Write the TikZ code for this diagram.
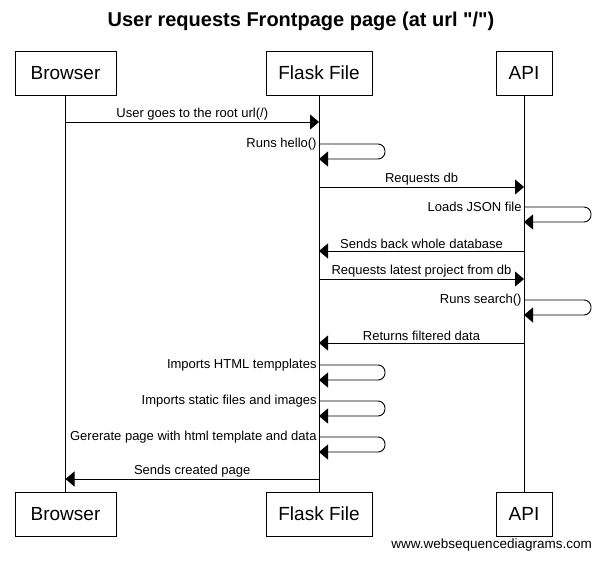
\documentclass[tikz,border=0pt]{standalone}
\usepackage{fontspec}
\setmainfont{Liberation Sans}
\newfontfamily\plainfont{Liberation Sans}
\usetikzlibrary{arrows.meta}
\begin{document}
\begin{tikzpicture}[x=1pt,y=-1pt,
  actor/.style={draw, line width=0.9pt, minimum height=44pt, inner sep=0pt, font=\fontsize{19}{22}\selectfont},
  msg/.style={line width=0.9pt, -{Triangle[length=9pt,width=15pt]}},
  lbl/.style={inner sep=0pt, font=\fontsize{13}{15}\selectfont},
  life/.style={line width=0.9pt}]
\useasboundingbox (0,0) rectangle (601,561);
\node[font=\plainfont\bfseries\fontsize{20}{24}\selectfont] (title) at (301,21) {User requests Frontpage page (at url "/")};
% actors top
\node[actor, minimum width=101pt] (bt) at (65.5,73) {Browser};
\node[actor, minimum width=106pt] (ft) at (319,73) {Flask File};
\node[actor, minimum width=56pt] (at) at (524,73) {API};
% actors bottom
\node[actor, minimum width=101pt] (bb) at (65.5,514) {Browser};
\node[actor, minimum width=106pt] (fb) at (319,514) {Flask File};
\node[actor, minimum width=56pt] (ab) at (524,514) {API};
% lifelines
\draw[life] (bt.south) -- (bb.north);
\draw[life] (ft.south) -- (fb.north);
\draw[life] (at.south) -- (ab.north);
% messages
\draw[msg] (bt.south |- {(0,122)}) -- node[lbl, above=1.5pt]{User goes to the root url(/)} (ft.south |- {(0,122)});
\draw[msg, rounded corners=7pt] (ft.south |- {(0,144)}) node[lbl, anchor=east, xshift=-2pt]{Runs hello()} -- ++(66,0) -- ++(0,15) -- (ft.south |- {(0,159)});
\draw[msg] (ft.south |- {(0,187)}) -- node[lbl, above=1.5pt]{Requests db} (at.south |- {(0,187)});
\draw[msg, rounded corners=7pt] (at.south |- {(0,207)}) node[lbl, anchor=east, xshift=-2pt]{Loads JSON file} -- ++(67,0) -- ++(0,15) -- (at.south |- {(0,222)});
\draw[msg] (at.south |- {(0,251)}) -- node[lbl, above=1.5pt]{Sends back whole database} (ft.south |- {(0,251)});
\draw[msg] (ft.south |- {(0,279)}) -- node[lbl, above=1.5pt]{Requests latest project from db} (at.south |- {(0,279)});
\draw[msg, rounded corners=7pt] (at.south |- {(0,300)}) node[lbl, anchor=east, xshift=-2pt]{Runs search()} -- ++(67,0) -- ++(0,15) -- (at.south |- {(0,315)});
\draw[msg] (at.south |- {(0,343)}) -- node[lbl, above=1.5pt]{Returns filtered data} (ft.south |- {(0,343)});
\draw[msg, rounded corners=7pt] (ft.south |- {(0,365)}) node[lbl, anchor=east, xshift=-2pt]{Imports HTML tempplates} -- ++(66,0) -- ++(0,15) -- (ft.south |- {(0,380)});
\draw[msg, rounded corners=7pt] (ft.south |- {(0,401)}) node[lbl, anchor=east, xshift=-2pt]{Imports static files and images} -- ++(66,0) -- ++(0,15) -- (ft.south |- {(0,416)});
\draw[msg, rounded corners=7pt] (ft.south |- {(0,437)}) node[lbl, anchor=east, xshift=-2pt]{Gererate page with html template and data} -- ++(66,0) -- ++(0,15) -- (ft.south |- {(0,452)});
\draw[msg] (ft.south |- {(0,479)}) -- node[lbl, above=1.5pt]{Sends created page} (bt.south |- {(0,479)});
\node[lbl, anchor=east, font=\fontsize{13.5}{15}\selectfont] (wm) at (592,545) {www.websequencediagrams.com};
\end{tikzpicture}
\end{document}
